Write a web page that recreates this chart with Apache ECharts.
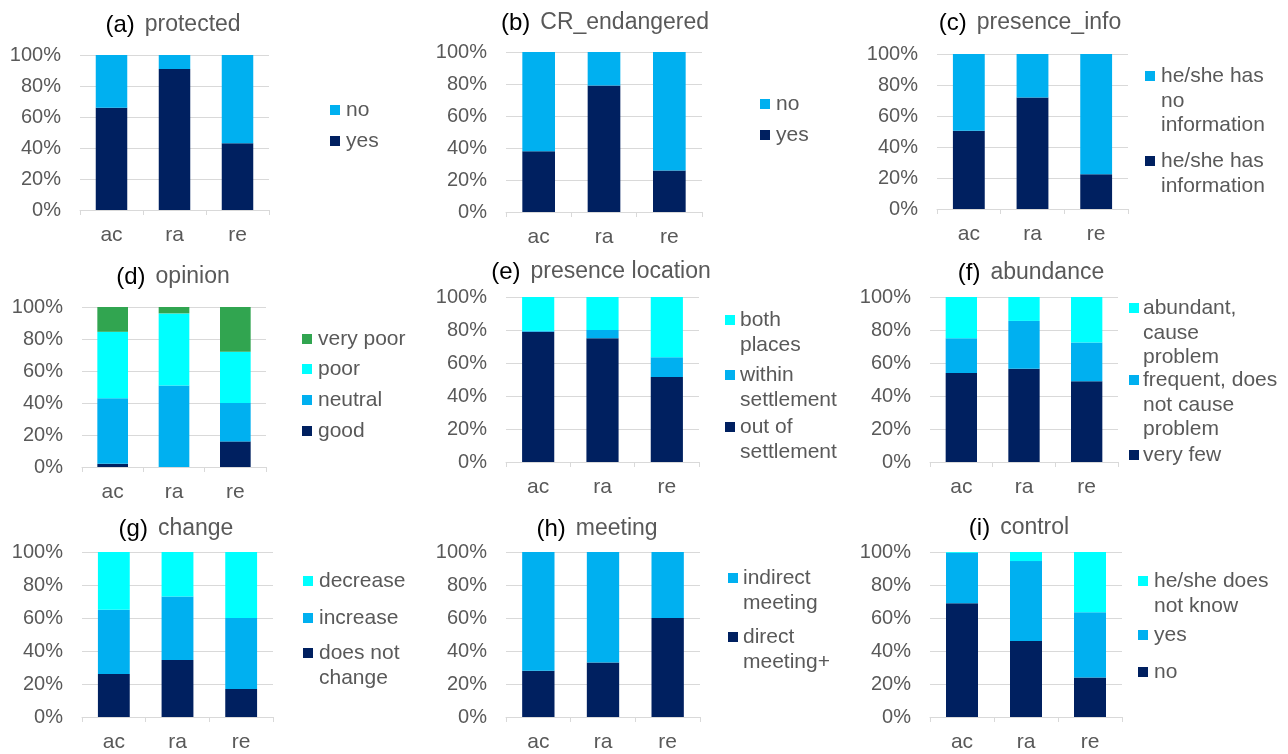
<!DOCTYPE html>
<html><head><meta charset="utf-8">
<script src="https://cdn.jsdelivr.net/npm/echarts/dist/echarts.min.js"></script>
<style>html,body{margin:0;padding:0;background:#fff}#chart{width:1288px;height:754px}</style>
</head><body><div id="chart"></div><script>
// ---------- data ----------
const categories = ['ac', 'ra', 're'];
const yTickLabels = ['0%', '20%', '40%', '60%', '80%', '100%'];

const protectedNames = ['yes', 'no'];
const protectedYes = [66, 91, 43];
const protectedNo = [34, 9, 57];

const crNames = ['yes', 'no'];
const crYes = [38, 79, 26];
const crNo = [62, 21, 74];

const infoNames = ['he/she has\ninformation', 'he/she has\nno\ninformation'];
const infoHas = [50.5, 72, 22.5];
const infoNone = [49.5, 28, 77.5];

const opinionNames = ['good', 'neutral', 'poor', 'very poor'];
const opinionGood = [2, 0, 16];
const opinionNeutral = [41, 51, 24];
const opinionPoor = [41.5, 45, 32];
const opinionVeryPoor = [15.5, 4, 28];

const locationNames = ['out of\nsettlement', 'within\nsettlement', 'both\nplaces'];
const locationOut = [79, 75, 51.5];
const locationWithin = [0.5, 5, 12];
const locationBoth = [20.5, 20, 36.5];

const abundanceNames = ['very few', 'frequent, does\nnot cause\nproblem', 'abundant,\ncause\nproblem'];
const abundanceFew = [54, 56.5, 49];
const abundanceFrequent = [21, 29, 23.5];
const abundanceAbundant = [25, 14.5, 27.5];

const changeNames = ['does not\nchange', 'increase', 'decrease'];
const changeNone = [26, 34.5, 17];
const changeIncrease = [39, 38.5, 43];
const changeDecrease = [35, 27, 40];

const meetingNames = ['direct\nmeeting+', 'indirect\nmeeting'];
const meetingDirect = [28, 33, 60];
const meetingIndirect = [72, 67, 40];

const controlNames = ['no', 'yes', 'he/she does\nnot know'];
const controlNo = [69, 46, 24];
const controlYes = [30.5, 48.5, 39.5];
const controlUnknown = [0.5, 5.5, 36.5];

const titleTags = ['(a)', '(b)', '(c)', '(d)', '(e)', '(f)', '(g)', '(h)', '(i)'];
const titleNames = ['protected', 'CR_endangered', 'presence_info', 'opinion', 'presence location', 'abundance', 'change', 'meeting', 'control'];

// ---------- styling ----------
const NAVY = '#002060', BLUE = '#00B0F0', CYAN = '#00FFFF', GREEN = '#31A550';
const GRAY = '#595959', LINE = '#d9d9d9';
const FONT = 'Liberation Sans, Arial, sans-serif';

const panels = [
  { names: protectedNames, values: [protectedYes, protectedNo], colors: [NAVY, BLUE],
    grid: [80, 55, 189, 155], title: [173, 25], legend: { sq: 330, tx: 346, ys: [141, 110] } },
  { names: crNames, values: [crYes, crNo], colors: [NAVY, BLUE],
    grid: [506, 52, 196, 160], title: [605, 23], legend: { sq: 760, tx: 776, ys: [135, 104] } },
  { names: infoNames, values: [infoHas, infoNone], colors: [NAVY, BLUE],
    grid: [937, 54, 191, 155], title: [1030, 23], legend: { sq: 1145, tx: 1161, ys: [161, 76] } },
  { names: opinionNames, values: [opinionGood, opinionNeutral, opinionPoor, opinionVeryPoor], colors: [NAVY, BLUE, CYAN, GREEN],
    grid: [82, 307, 184, 160], title: [173, 277], legend: { sq: 302, tx: 318, ys: [431, 400, 369, 339] } },
  { names: locationNames, values: [locationOut, locationWithin, locationBoth], colors: [NAVY, BLUE, CYAN],
    grid: [506, 297, 193, 165], title: [601, 272], legend: { sq: 725, tx: 740, ys: [427, 375, 320] } },
  { names: abundanceNames, values: [abundanceFew, abundanceFrequent, abundanceAbundant], colors: [NAVY, BLUE, CYAN],
    grid: [930, 297, 188, 165], title: [1031, 273], legend: { sq: 1129, tx: 1143, ys: [455, 380, 308] } },
  { names: changeNames, values: [changeNone, changeIncrease, changeDecrease], colors: [NAVY, BLUE, CYAN],
    grid: [82, 552, 191, 165], title: [176, 529], legend: { sq: 303, tx: 319, ys: [653, 618, 581] } },
  { names: meetingNames, values: [meetingDirect, meetingIndirect], colors: [NAVY, BLUE],
    grid: [506, 552, 194, 165], title: [597, 529], legend: { sq: 728, tx: 743, ys: [637, 578] } },
  { names: controlNames, values: [controlNo, controlYes, controlUnknown], colors: [NAVY, BLUE, CYAN],
    grid: [930, 552, 192, 165], title: [1019, 528], legend: { sq: 1138, tx: 1154, ys: [672, 635, 581] } }
];

const option = { animation: false, backgroundColor: '#fff', title: [], grid: [], xAxis: [], yAxis: [], series: [], graphic: [] };

panels.forEach((p, i) => {
  option.grid.push({ left: p.grid[0], top: p.grid[1], width: p.grid[2], height: p.grid[3], containLabel: false, outerBoundsMode: 'none' });
  option.xAxis.push({
    type: 'category', gridIndex: i, data: categories,
    axisLine: { lineStyle: { color: LINE, width: 1 } },
    axisTick: { show: true, length: 5, lineStyle: { color: LINE } },
    axisLabel: { color: GRAY, fontSize: 21, fontFamily: FONT, margin: 15 }
  });
  option.yAxis.push({
    type: 'value', gridIndex: i, min: 0, max: 100, interval: 20,
    axisLine: { show: false }, axisTick: { show: false },
    splitLine: { lineStyle: { color: LINE, width: 1 } },
    axisLabel: { color: GRAY, fontSize: 20, fontFamily: FONT, margin: 19,
      formatter: v => yTickLabels[Math.round(v / 20)] }
  });
  p.names.forEach((n, k) => {
    option.series.push({
      type: 'bar', name: n, xAxisIndex: i, yAxisIndex: i, stack: 'p' + i,
      data: p.values[k], barWidth: '50%', itemStyle: { color: p.colors[k] },
      emphasis: { disabled: true }
    });
    option.graphic.push({
      type: 'rect', silent: true,
      shape: { x: p.legend.sq, y: p.legend.ys[k] - 5, width: 10, height: 10 },
      style: { fill: p.colors[k] }
    });
    option.graphic.push({
      type: 'text', silent: true, x: p.legend.tx, y: p.legend.ys[k] - 12,
      style: { text: n, fill: GRAY, fontSize: 21, fontFamily: FONT, lineHeight: 24.5, verticalAlign: 'top', align: 'left' }
    });
  });
  option.title.push({
    left: p.title[0], top: p.title[1], padding: 0,
    textAlign: 'center', textVerticalAlign: 'middle',
    text: '{t|' + titleTags[i] + '}  {n|' + titleNames[i] + '}',
    textStyle: { fontWeight: 'normal', rich: {
      t: { fontSize: 24, color: '#000', fontFamily: FONT, fontWeight: 'normal' },
      n: { fontSize: 23, color: GRAY, fontFamily: FONT, fontWeight: 'normal' }
    } }
  });
});

const chart = echarts.init(document.getElementById('chart'), null, { renderer: 'canvas' });
chart.setOption(option);
</script></body></html>
